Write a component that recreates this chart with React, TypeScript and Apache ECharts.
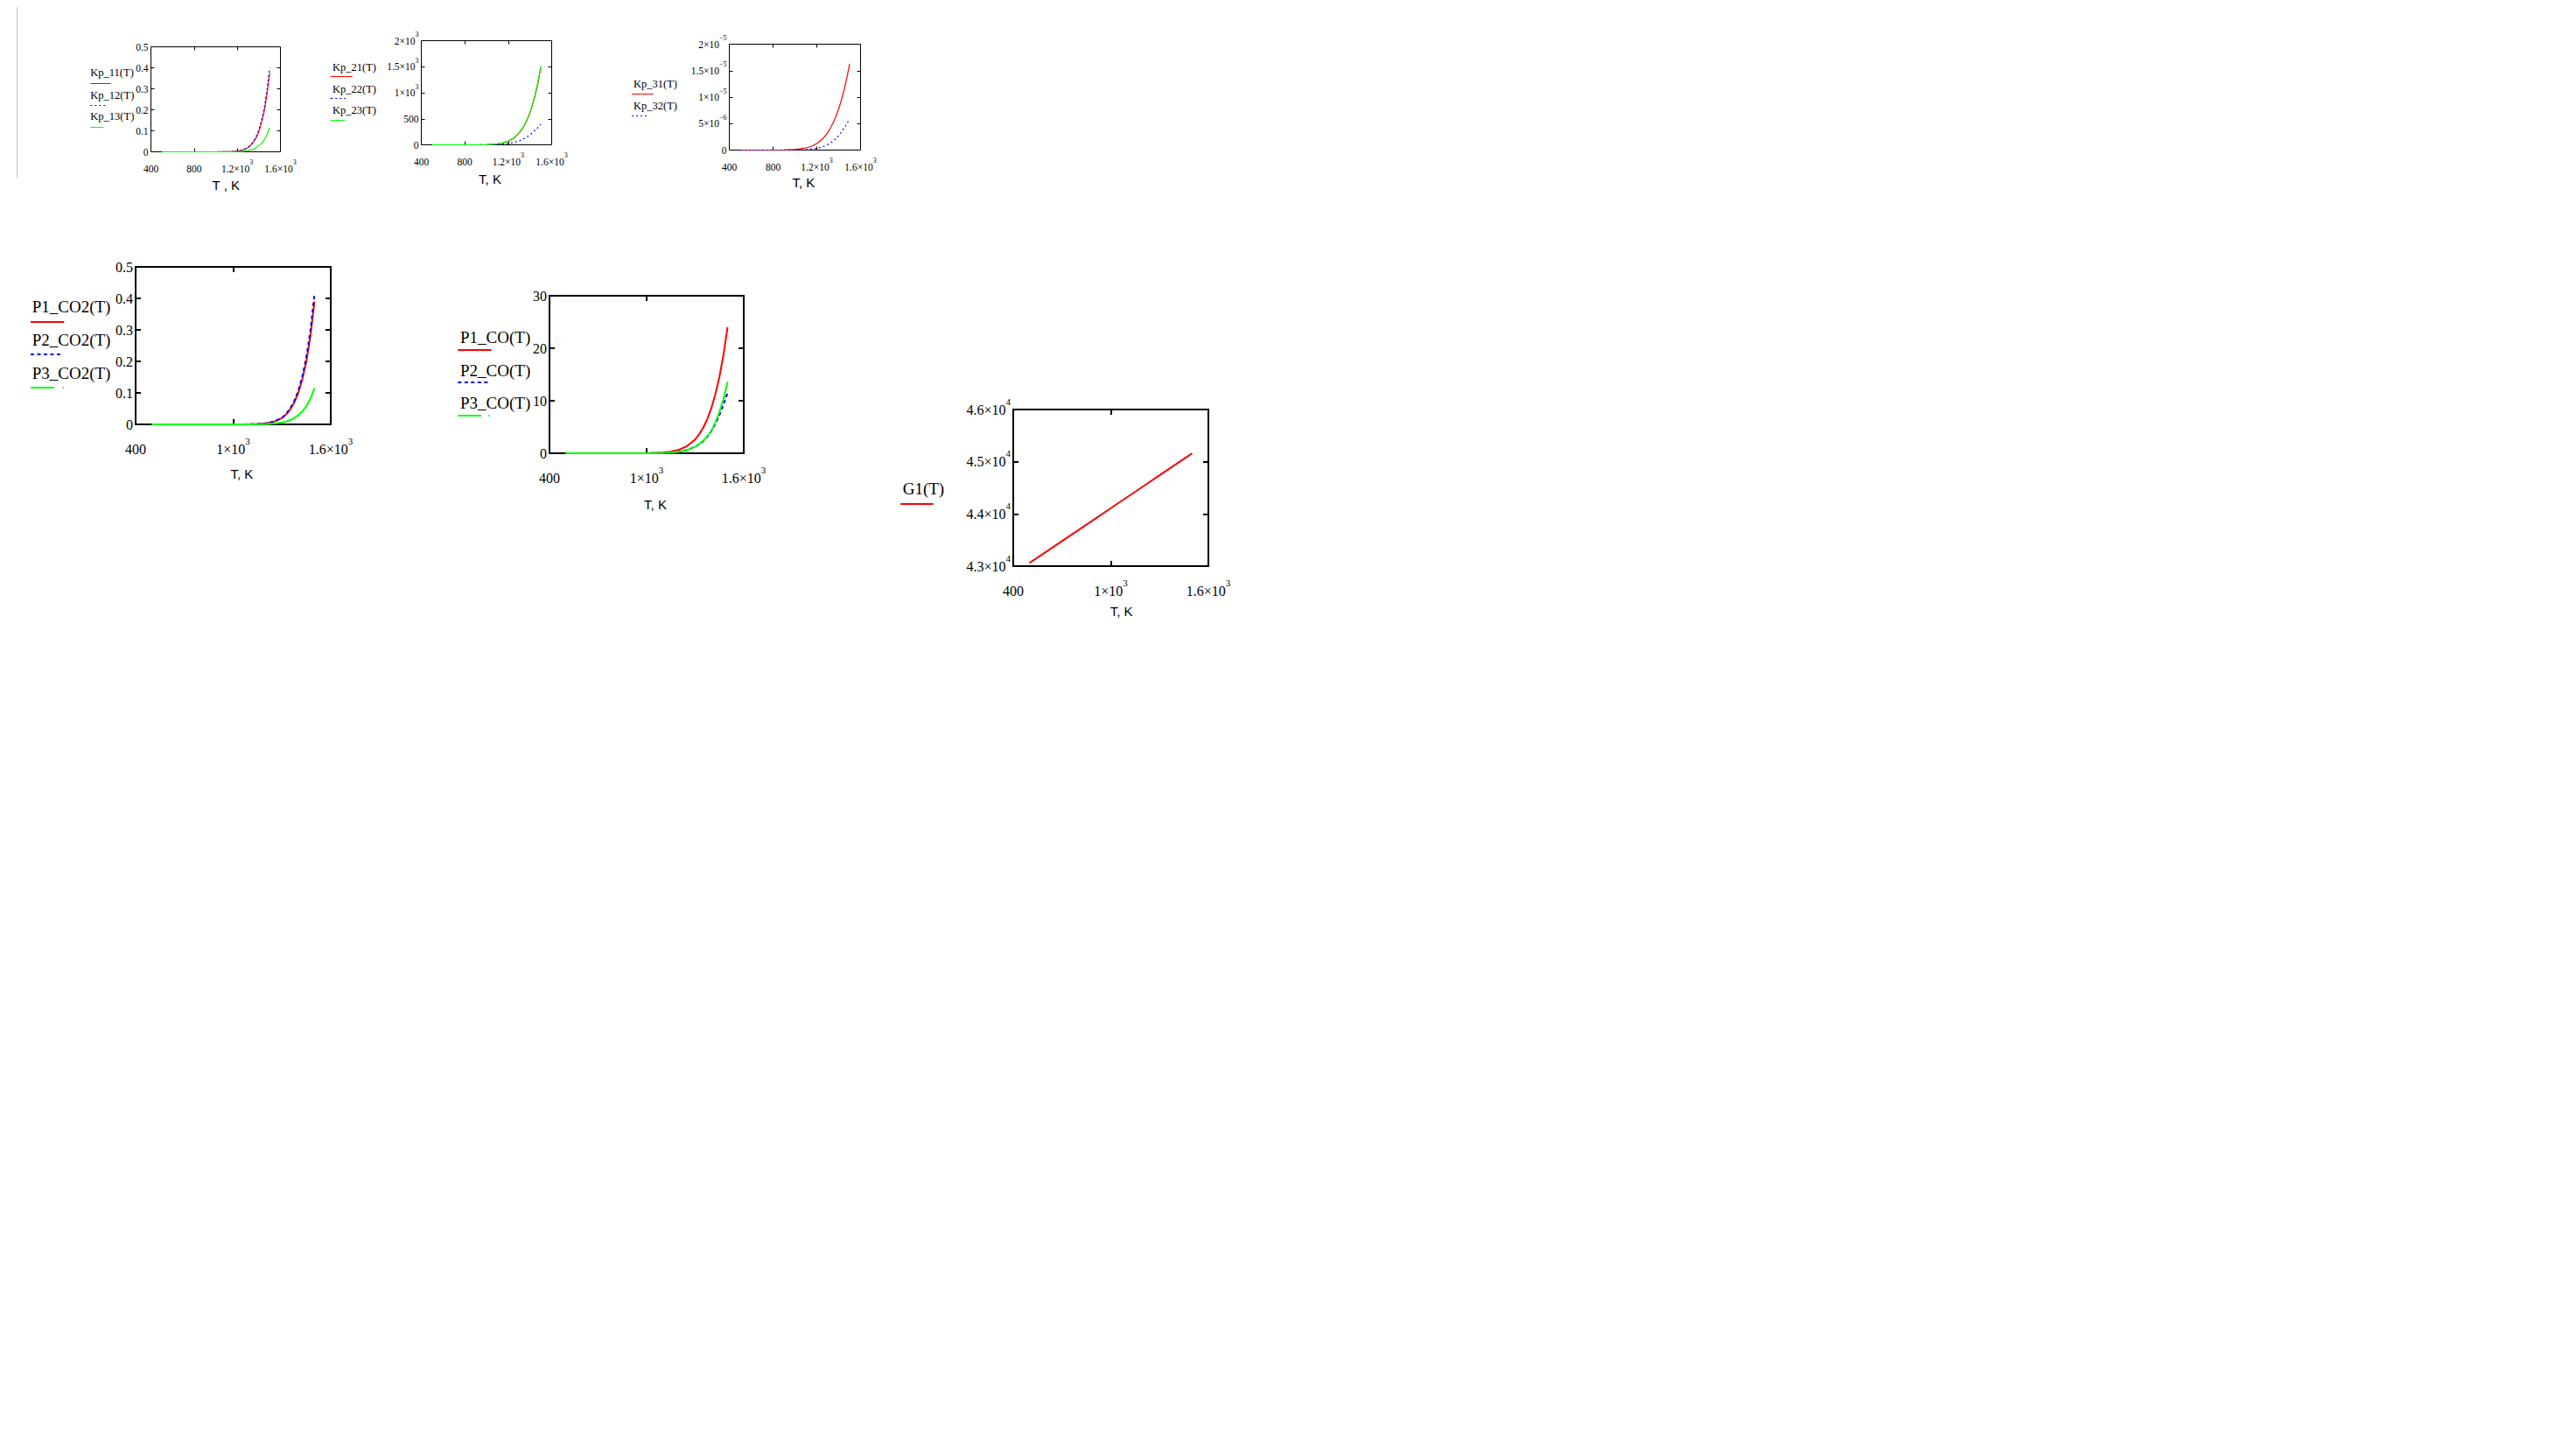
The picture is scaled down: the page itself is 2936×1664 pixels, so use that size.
import React, { useEffect, useRef } from "react";
import * as echarts from "echarts";

// ---------- data ----------
const T = [500, 600, 700, 800, 900, 1000, 1100, 1150, 1200, 1250, 1300, 1325, 1350, 1375, 1400, 1425, 1450, 1475, 1500];

// plot 1 / plot 4 : Kp_1x = P_CO2
const p1CO2 = [0, 0, 0, 0, 0.00001, 0.00005, 0.0004, 0.0012, 0.0033, 0.0085, 0.02, 0.031, 0.047, 0.069, 0.1, 0.143, 0.2, 0.28, 0.39];
const p2CO2 = [0, 0, 0, 0, 0.00001, 0.00005, 0.0004, 0.0013, 0.0035, 0.009, 0.021, 0.033, 0.05, 0.073, 0.106, 0.152, 0.213, 0.298, 0.415];
const p3CO2 = [0, 0, 0, 0, 0, 0.00002, 0.00012, 0.00035, 0.001, 0.0025, 0.0058, 0.009, 0.0137, 0.02, 0.029, 0.041, 0.057, 0.081, 0.115];
const kp11 = [0, 0, 0, 0, 0.00001, 0.00005, 0.0004, 0.0012, 0.0033, 0.0085, 0.02, 0.031, 0.046, 0.067, 0.097, 0.139, 0.194, 0.272, 0.375];
const kp12 = [0, 0, 0, 0, 0.00001, 0.00005, 0.0004, 0.0013, 0.0035, 0.009, 0.021, 0.033, 0.05, 0.073, 0.105, 0.15, 0.21, 0.295, 0.4];
const kp13 = [0, 0, 0, 0, 0, 0.00002, 0.00012, 0.00035, 0.001, 0.0025, 0.0058, 0.009, 0.0137, 0.02, 0.029, 0.041, 0.057, 0.081, 0.115];

// plot 2
const kp21 = [0, 0, 0, 0.05, 0.4, 3.2, 17, 35, 69, 127, 224, 293, 379, 485, 615, 776, 970, 1202, 1480];
const kp22 = [0, 0, 0, 0.01, 0.2, 1.5, 7, 14, 26, 45, 75, 98, 125, 155, 190, 235, 285, 335, 395];
const kp23 = [0, 0, 0, 0.05, 0.4, 3.3, 17.5, 36, 70, 130, 228, 299, 387, 495, 627, 792, 990, 1226, 1510];

// plot 3
const kp31 = [0, 0, 0, 0, 1.7e-8, 9.3e-8, 3.8e-7, 7.0e-7, 1.23e-6, 2.06e-6, 3.3e-6, 4.16e-6, 5.17e-6, 6.37e-6, 7.8e-6, 9.46e-6, 1.14e-5, 1.37e-5, 1.63e-5];
const kp32 = [0, 0, 0, 0, 2e-9, 1.5e-8, 8e-8, 1.7e-7, 3.3e-7, 6e-7, 1.05e-6, 1.35e-6, 1.7e-6, 2.15e-6, 2.7e-6, 3.4e-6, 4.2e-6, 5.0e-6, 5.9e-6];

// plot 5
const p1CO = [0, 0, 0, 0, 0.002, 0.018, 0.13, 0.31, 0.67, 1.36, 2.63, 3.61, 4.88, 6.52, 8.62, 11.3, 14.6, 18.8, 24.0];
const p2CO = [0, 0, 0, 0, 0, 0.008, 0.06, 0.14, 0.3, 0.62, 1.25, 1.7, 2.3, 3.1, 4.2, 5.6, 7.3, 9.3, 11.5];
const p3CO = [0, 0, 0, 0, 0, 0.006, 0.05, 0.12, 0.28, 0.6, 1.25, 1.75, 2.4, 3.2, 4.3, 5.9, 7.9, 10.3, 13.6];

// plot 6
const tG = [500, 600, 700, 800, 900, 1000, 1100, 1200, 1300, 1400, 1500];
const g1 = [43060, 43270, 43480, 43690, 43900, 44110, 44320, 44530, 44740, 44950, 45160];

// ---------- ticks & tick labels ----------
const xTicksA = [400, 800, 1200, 1600];
const xLabelsA = ["400", "800", "1.2×10^3", "1.6×10^3"];
const xTicksB = [400, 1000, 1600];
const xLabelsB = ["400", "1×10^3", "1.6×10^3"];
const yTicks1 = [0, 0.1, 0.2, 0.3, 0.4, 0.5];
const yLabels1 = ["0", "0.1", "0.2", "0.3", "0.4", "0.5"];
const yTicks2 = [0, 500, 1000, 1500, 2000];
const yLabels2 = ["0", "500", "1×10^3", "1.5×10^3", "2×10^3"];
const yTicks3 = [0, 5e-6, 1e-5, 1.5e-5, 2e-5];
const yLabels3 = ["0", "5×10^−6", "1×10^−5", "1.5×10^−5", "2×10^−5"];
const yTicks5 = [0, 10, 20, 30];
const yLabels5 = ["0", "10", "20", "30"];
const yTicks6 = [43000, 44000, 45000, 46000];
const yLabels6 = ["4.3×10^4", "4.4×10^4", "4.5×10^4", "4.6×10^4"];

// ---------- styling ----------
const RED = "#ff0000";
const BLUE = "#0000ff";
const GREEN = "#00ff00";
const SERIF = '"Liberation Serif", "Times New Roman", serif';
const SANS = '"Liberation Sans", Arial, sans-serif';
const OFF = 8;

type SeriesDef = { name: string; x: number[]; y: number[]; color: string; dash: boolean };
type PlotDef = {
  box: number[];
  big: boolean;
  xTicks: number[];
  xLabels: string[];
  yTicks: number[];
  yLabels: string[];
  series: SeriesDef[];
  legend: { tx: number; ty: number[]; lx: number; ly: number[]; len: number[]; dot?: number };
  title: { text: string; x: number; y: number };
};

const PLOTS: PlotDef[] = [
  {
    box: [171.7, 53.3, 320, 173.3], big: false,
    xTicks: xTicksA, xLabels: xLabelsA, yTicks: yTicks1, yLabels: yLabels1,
    series: [
      { name: "Kp_11(T)", x: T, y: kp11, color: RED, dash: false },
      { name: "Kp_12(T)", x: T, y: kp12, color: BLUE, dash: true },
      { name: "Kp_13(T)", x: T, y: kp13, color: GREEN, dash: false },
    ],
    legend: { tx: 103.3, ty: [83.3, 109, 133.3], lx: 103.3, ly: [95, 120, 145], len: [23.4, 19, 15] },
    title: { text: "T , K", x: 258.3, y: 211.7 },
  },
  {
    box: [480.7, 45.7, 629.3, 165], big: false,
    xTicks: xTicksA, xLabels: xLabelsA, yTicks: yTicks2, yLabels: yLabels2,
    series: [
      { name: "Kp_21(T)", x: T, y: kp21, color: RED, dash: false },
      { name: "Kp_22(T)", x: T, y: kp22, color: BLUE, dash: true },
      { name: "Kp_23(T)", x: T, y: kp23, color: GREEN, dash: false },
    ],
    legend: { tx: 380, ty: [76.7, 101.7, 126], lx: 378.3, ly: [87.3, 111.7, 137.3], len: [24.4, 20, 16] },
    title: { text: "T, K", x: 560, y: 204 },
  },
  {
    box: [833.3, 50, 983.3, 170.7], big: false,
    xTicks: xTicksA, xLabels: xLabelsA, yTicks: yTicks3, yLabels: yLabels3,
    series: [
      { name: "Kp_31(T)", x: T, y: kp31, color: RED, dash: false },
      { name: "Kp_32(T)", x: T, y: kp32, color: BLUE, dash: true },
    ],
    legend: { tx: 724, ty: [96, 120.7], lx: 722, ly: [107.3, 132.3], len: [24.7, 20] },
    title: { text: "T, K", x: 918.3, y: 208.3 },
  },
  {
    box: [155, 305, 377.7, 485], big: true,
    xTicks: xTicksB, xLabels: xLabelsB, yTicks: yTicks1, yLabels: yLabels1,
    series: [
      { name: "P1_CO2(T)", x: T, y: p1CO2, color: RED, dash: false },
      { name: "P2_CO2(T)", x: T, y: p2CO2, color: BLUE, dash: true },
      { name: "P3_CO2(T)", x: T, y: p3CO2, color: GREEN, dash: false },
    ],
    legend: { tx: 36.7, ty: [350, 388.3, 426.7], lx: 35, ly: [368.3, 405, 442.7], len: [38.3, 36.7, 26.7], dot: 71.7 },
    title: { text: "T, K", x: 276.3, y: 541.7 },
  },
  {
    box: [627.7, 338.3, 850, 518.3], big: true,
    xTicks: xTicksB, xLabels: xLabelsB, yTicks: yTicks5, yLabels: yLabels5,
    series: [
      { name: "P1_CO(T)", x: T, y: p1CO, color: RED, dash: false },
      { name: "P2_CO(T)", x: T, y: p2CO, color: BLUE, dash: true },
      { name: "P3_CO(T)", x: T, y: p3CO, color: GREEN, dash: false },
    ],
    legend: { tx: 526, ty: [385, 423.3, 460], lx: 523.3, ly: [400, 437.3, 475], len: [38.4, 36.7, 26.7], dot: 558 },
    title: { text: "T, K", x: 749, y: 576.7 },
  },
  {
    box: [1157.7, 468.3, 1381, 647.7], big: true,
    xTicks: xTicksB, xLabels: xLabelsB, yTicks: yTicks6, yLabels: yLabels6,
    series: [{ name: "G1(T)", x: tG, y: g1, color: RED, dash: false }],
    legend: { tx: 1031.7, ty: [558.3], lx: 1029.3, ly: [575.7], len: [37.4] },
    title: { text: "T, K", x: 1281.7, y: 698.3 },
  },
];

function makeFmt(ticks: number[], labels: string[]) {
  const span = Math.abs(ticks[ticks.length - 1] - ticks[0]) || 1;
  return (v: number) => {
    let idx = -1;
    for (let i = 0; i < ticks.length; i++) if (Math.abs(ticks[i] - v) < span * 1e-6) idx = i;
    if (idx < 0) return "";
    const parts = labels[idx].split("^");
    return parts[1] ? `{a|${parts[0]}}{s|${parts[1]}}` : `{a|${parts[0]}}`;
  };
}

function buildOption() {
  const grid: any[] = [];
  const xAxis: any[] = [];
  const yAxis: any[] = [];
  const series: any[] = [];
  const graphic: any[] = [];

  PLOTS.forEach((p, k) => {
    const [l, t, r, b] = p.box;
    const big = p.big;
    const fs = big ? 16 : 11.5;
    const sfs = big ? 11 : 8;
    const pad = big ? 7 : 5;
    const tickLen = big ? 6 : 4;
    const tickW = big ? 2 : 1;
    const rich = {
      a: { fontFamily: SERIF, fontSize: fs, color: "#000", padding: [pad, 0, pad, 0] },
      s: { fontFamily: SERIF, fontSize: sfs, color: "#000", verticalAlign: "top" },
    };
    // crisp frame: half-pixel for 1px borders, whole pixel for 2px borders
    const shift = big ? 0 : 0.5;
    const gl = Math.round(l - OFF) + shift;
    const gt = Math.round(t - OFF) + shift;
    const gw = Math.round(r - l);
    const gh = Math.round(b - t);
    grid.push({
      left: gl, top: gt, width: gw, height: gh,
      show: true, borderColor: "#000", borderWidth: big ? 2 : 1, backgroundColor: "transparent",
    });
    const xMin = p.xTicks[0];
    const xMax = p.xTicks[p.xTicks.length - 1];
    const yMin = p.yTicks[0];
    const yMax = p.yTicks[p.yTicks.length - 1];
    const xInner = p.xTicks.slice(1, -1);
    const yInner = p.yTicks.slice(1, -1);
    const tickStyle = { show: true, inside: true, length: tickLen, lineStyle: { color: "#000", width: tickW } };
    const noLine = { show: false, onZero: false };
    // bottom x
    xAxis.push({
      type: "value", gridIndex: k, position: "bottom", min: xMin, max: xMax,
      axisLine: noLine, splitLine: { show: false },
      axisTick: { ...tickStyle, customValues: xInner },
      axisLabel: {
        show: true, margin: big ? 13 : 8, customValues: p.xTicks,
        showMinLabel: true, showMaxLabel: true,
        formatter: makeFmt(p.xTicks, p.xLabels), rich,
      },
    });
    // top x (ticks only)
    xAxis.push({
      type: "value", gridIndex: k, position: "top", min: xMin, max: xMax,
      axisLine: noLine, splitLine: { show: false },
      axisTick: { ...tickStyle, customValues: xInner },
      axisLabel: { show: false },
    });
    // left y
    yAxis.push({
      type: "value", gridIndex: k, position: "left", min: yMin, max: yMax,
      axisLine: noLine, splitLine: { show: false },
      axisTick: { ...tickStyle, customValues: yInner },
      axisLabel: {
        show: true, margin: 3, customValues: p.yTicks,
        showMinLabel: true, showMaxLabel: true,
        formatter: makeFmt(p.yTicks, p.yLabels), rich,
      },
    });
    // right y (ticks only)
    yAxis.push({
      type: "value", gridIndex: k, position: "right", min: yMin, max: yMax,
      axisLine: noLine, splitLine: { show: false },
      axisTick: { ...tickStyle, customValues: yInner },
      axisLabel: { show: false },
    });

    p.series.forEach((s) => {
      series.push({
        type: "line",
        name: s.name,
        xAxisIndex: 2 * k,
        yAxisIndex: 2 * k,
        data: s.x.map((tv, i) => [tv, s.y[i]]),
        showSymbol: false,
        symbol: "none",
        silent: true,
        lineStyle: {
          color: s.color,
          width: big ? 2 : 1.2,
          type: s.dash ? (big ? [4, 3.5] : [2, 3]) : "solid",
        },
      });
    });

    // legend (Mathcad-style trace labels)
    const lfs = big ? 19 : 12.5;
    p.series.forEach((s, i) => {
      graphic.push({
        type: "text", silent: true, z: 10,
        x: p.legend.tx - OFF, y: p.legend.ty[i] - OFF,
        style: {
          text: s.name, font: `${lfs}px ${SERIF}`, fill: "#000",
          align: "left", textAlign: "left", verticalAlign: "middle", textVerticalAlign: "middle",
        },
      });
      const ly = Math.round(p.legend.ly[i] - OFF) + (big ? 0 : 0.5);
      graphic.push({
        type: "line", silent: true, z: 10,
        shape: {
          x1: p.legend.lx - OFF, y1: ly,
          x2: p.legend.lx + p.legend.len[i] - OFF, y2: ly,
        },
        style: {
          stroke: s.color, lineWidth: big ? 2 : 1,
          lineDash: s.dash ? (big ? [4, 3.5] : [2, 3]) : null,
        },
      });
      if (s.color === GREEN && p.legend.dot) {
        graphic.push({
          type: "line", silent: true, z: 10,
          shape: { x1: p.legend.dot - OFF, y1: ly, x2: p.legend.dot + 1.5 - OFF, y2: ly },
          style: { stroke: GREEN, lineWidth: 2 },
        });
      }
    });

    // axis title
    graphic.push({
      type: "text", silent: true, z: 10,
      x: p.title.x - OFF, y: p.title.y - OFF,
      style: {
        text: p.title.text, font: `15px ${SANS}`, fill: "#000",
        align: "center", textAlign: "center", verticalAlign: "middle", textVerticalAlign: "middle",
      },
    });
  });

  // small trace markers to the right of the first plot
  [[87.3, RED], [111.7, BLUE], [136.7, GREEN]].forEach(([yy, c]) => {
    const y = Math.round((yy as number) - OFF) + 0.5;
    graphic.push({
      type: "line", silent: true,
      shape: { x1: 377.5 - OFF, y1: y, x2: 380 - OFF, y2: y },
      style: { stroke: c as string, lineWidth: 1 },
    });
  });

  // worksheet region border on the left
  graphic.push({
    type: "line", silent: true,
    shape: { x1: 19.5 - OFF, y1: 0, x2: 19.5 - OFF, y2: 203 - OFF },
    style: { stroke: "#c0c0c0", lineWidth: 1 },
  });

  return {
    animation: false,
    backgroundColor: "#ffffff",
    grid,
    xAxis,
    yAxis,
    series,
    graphic,
  };
}

export default function App() {
  const ref = useRef<HTMLDivElement>(null);
  useEffect(() => {
    if (!ref.current) return;
    const chart = echarts.init(ref.current, null, { renderer: "svg" });
    chart.setOption(buildOption() as any);
    return () => chart.dispose();
  }, []);
  return <div ref={ref} style={{ width: 2920, height: 1648 }} />;
}
